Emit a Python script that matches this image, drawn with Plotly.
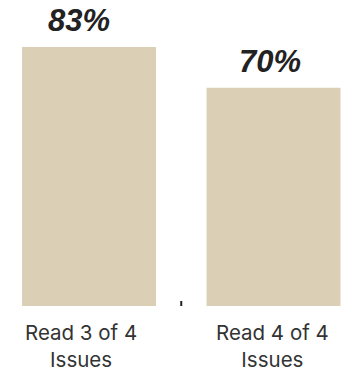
import plotly.graph_objects as go

categories = ["Read 3 of 4<br>Issues", "Read 4 of 4<br>Issues"]
values = [83, 70]
value_labels = ["83%", "70%"]

BAR_COLOR = "#DBD0B6"
TEXT_COLOR = "#333333"

# horizontal nudges for the text labels (pixels)
value_xshift = [-10, -4]
cat_xshift = [-8, -1]

fig = go.Figure()
fig.add_trace(go.Bar(
    x=list(range(len(categories))),
    y=values,
    width=0.726,
    marker=dict(color=BAR_COLOR, line=dict(width=0)),
    hoverinfo="skip",
))

# value labels above each bar
for i, (v, lab) in enumerate(zip(values, value_labels)):
    fig.add_annotation(
        x=i, y=v, text=f"<b><i>{lab}</i></b>",
        showarrow=False, yanchor="bottom", yshift=7, xshift=value_xshift[i],
        font=dict(family="Liberation Sans", size=31, color="#222222"),
    )

# category labels under the bars
for i, cat in enumerate(categories):
    fig.add_annotation(
        x=i, y=0, text=cat, showarrow=False,
        yanchor="top", yshift=-12, xshift=cat_xshift[i],
        font=dict(family="Inter", size=20.5, color=TEXT_COLOR),
    )

# small divider tick between the two categories
fig.add_shape(type="line", x0=0.5, x1=0.5, y0=0, y1=1.6,
              xref="x", yref="y", line=dict(color="#222222", width=2))

fig.update_layout(
    width=364, height=371,
    margin=dict(l=0, r=0, t=0, b=65),
    paper_bgcolor="white", plot_bgcolor="white",
    showlegend=False,
    xaxis=dict(
        range=[-0.4824, 1.4905],
        showticklabels=False,
        showgrid=False, zeroline=False, showline=False, ticks="",
        fixedrange=True,
    ),
    yaxis=dict(
        range=[0, 98.1], visible=False, showgrid=False, zeroline=False,
        fixedrange=True,
    ),
)

fig.write_html("out.html")
